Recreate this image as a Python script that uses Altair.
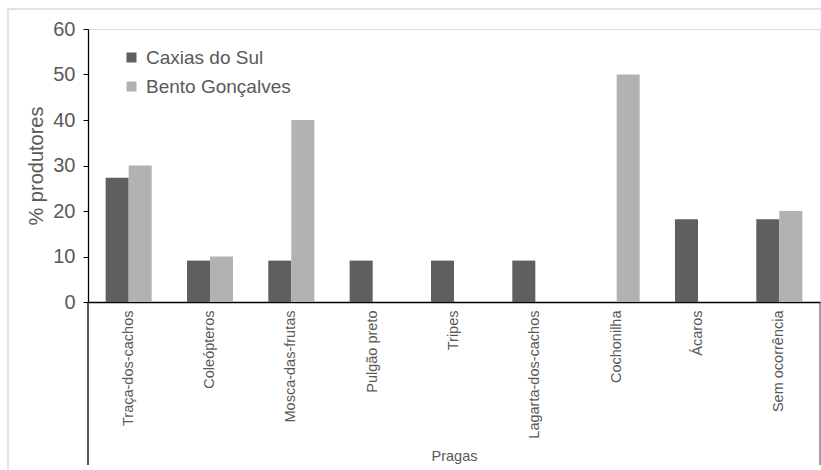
import altair as alt
import pandas as pd

categorias = ["Traça-dos-cachos", "Coleópteros", "Mosca-das-frutas", "Pulgão preto",
              "Tripes", "Lagarta-dos-cachos", "Cochonilha", "Ácaros", "Sem ocorrência"]
caxias = [27.3, 9.1, 9.1, 9.1, 9.1, 9.1, 0, 18.2, 18.2]
bento = [30, 10, 40, 0, 0, 0, 50, 0, 20]
series = ["Caxias do Sul", "Bento Gonçalves"]
y_ticks = [0, 10, 20, 30, 40, 50, 60]

rows = []
for c, a, b in zip(categorias, caxias, bento):
    rows.append({"Praga": c, "Local": series[0], "Valor": a})
    rows.append({"Praga": c, "Local": series[1], "Valor": b})
df = pd.DataFrame(rows)

W, H = 732, 273
FONT = "Liberation Sans"
TXT = "#595959"

bars = alt.Chart(df).mark_bar().encode(
    x=alt.X("Praga:N", sort=categorias,
            scale=alt.Scale(paddingInner=0.434, paddingOuter=0.217),
            axis=alt.Axis(title="Pragas", labelAngle=-90, labelFontSize=14.5,
                          labelColor=TXT, labelFont=FONT, labelPadding=8,
                          ticks=False, domainColor="#000000", domainWidth=1.3,
                          titleFont=FONT, titleFontSize=14.5, titleColor=TXT,
                          titleFontWeight="normal", titleY=154, titleBaseline="middle",
                          labelLimit=300)),
    xOffset=alt.XOffset("Local:N", sort=series, scale=alt.Scale(paddingInner=0, paddingOuter=0)),
    y=alt.Y("Valor:Q", scale=alt.Scale(domain=[0, 60], nice=False),
            axis=alt.Axis(title="% produtores", values=y_ticks, grid=False,
                          labelFontSize=20, labelColor=TXT, labelFont=FONT,
                          labelPadding=8, tickSize=5, tickColor="#000000",
                          domainColor="#000000", domainWidth=1.3,
                          titleFont=FONT, titleFontSize=20, titleColor=TXT,
                          titleFontWeight="normal", titlePadding=6)),
    color=alt.Color("Local:N", sort=series,
                    scale=alt.Scale(domain=series, range=["#5f5f5f", "#b2b2b2"]),
                    legend=alt.Legend(title=None, orient="none", legendX=34, legendY=19,
                                      symbolType="square", symbolSize=100,
                                      symbolStrokeWidth=0, labelFontSize=19,
                                      labelFont=FONT, labelColor=TXT, labelOffset=5,
                                      rowPadding=9, padding=0)),
)

edge_df = pd.DataFrame({"pos": ["left", "right"]})
left_rule = alt.Chart(edge_df.iloc[[0]]).mark_rule(color="#000000", strokeWidth=1.3).encode(
    x=alt.value(0), y=alt.value(H), y2=alt.value(H + 163))
right_rule = alt.Chart(edge_df.iloc[[1]]).mark_rule(color="#404040", strokeWidth=1).encode(
    x=alt.value(W), y=alt.value(H), y2=alt.value(H + 163))
frame = alt.Chart(edge_df.iloc[[0]]).mark_rect(fill=None, stroke="#d9d9d9", strokeWidth=1.5).encode(
    x=alt.value(-80), x2=alt.value(W + 10), y=alt.value(-20), y2=alt.value(H + 200))

chart = alt.layer(frame, bars, left_rule, right_rule).properties(
    width=W, height=H,
    autosize=alt.AutoSizeParams(type="none"),
    padding={"left": 88, "top": 29, "right": 1, "bottom": 168},
).configure_view(stroke=None).configure(background="white")

chart.save("out.html", embed_options={"renderer": "svg", "actions": False})
